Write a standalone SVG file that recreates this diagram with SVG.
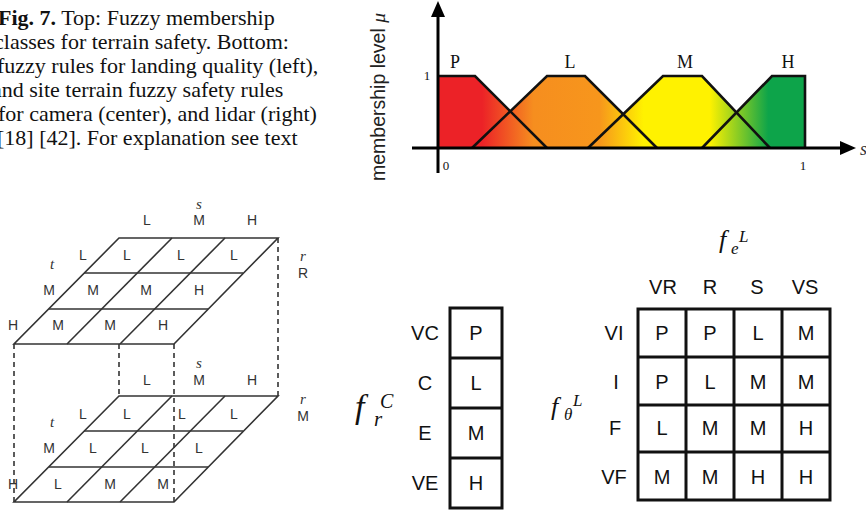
<svg xmlns="http://www.w3.org/2000/svg" width="866" height="510" viewBox="0 0 866 510">
<style>
.cap{font-family:"Liberation Serif","Times New Roman",serif;font-size:22px;fill:#111}
.ser{font-family:"Liberation Serif","Times New Roman",serif;fill:#111}
.it{font-family:"Liberation Serif","Times New Roman",serif;font-style:italic;fill:#333}
.g3{font-family:"Liberation Sans",Arial,sans-serif;font-size:14px;fill:#333;text-anchor:middle}
.tb{font-family:"Liberation Sans",Arial,sans-serif;font-size:20px;fill:#111;text-anchor:middle}
.gl{stroke:#333;stroke-width:1.6;fill:none}
.dash{stroke:#333;stroke-width:1.6;stroke-dasharray:5 4;fill:none}
.ol{stroke:#111;stroke-width:2.6;fill:none;stroke-linejoin:miter}
.tl{stroke:#111;stroke-width:3;fill:none}
</style>
<defs>
<linearGradient id="fz" gradientUnits="userSpaceOnUse" x1="438" y1="0" x2="805" y2="0">
<stop offset="0" stop-color="#ec2227"/>
<stop offset="0.12" stop-color="#ec2227"/>
<stop offset="0.26" stop-color="#f68e1f"/>
<stop offset="0.44" stop-color="#f7961c"/>
<stop offset="0.56" stop-color="#fff200"/>
<stop offset="0.74" stop-color="#fff200"/>
<stop offset="0.9" stop-color="#0da44a"/>
<stop offset="1" stop-color="#0da44a"/>
</linearGradient>
</defs>
<rect width="866" height="510" fill="#fff"/>

<g id="caption">
<text class="cap" x="-2" y="25"><tspan font-weight="bold">Fig. 7.</tspan> Top: Fuzzy membership</text>
<text class="cap" x="-6" y="49">classes for terrain safety. Bottom:</text>
<text class="cap" x="-3" y="73">fuzzy rules for landing quality (left),</text>
<text class="cap" x="-8" y="97">and site terrain fuzzy safety rules</text>
<text class="cap" x="-2" y="121">for camera (center), and lidar (right)</text>
<text class="cap" x="-3" y="145">[18] [42]. For explanation see text</text>
</g>

<g id="membership-chart">
<g fill="url(#fz)">
<polygon points="438,76 475,76 547,148 438,148"/>
<polygon points="472,148 547,76 585,76 657,148"/>
<polygon points="588,148 663,76 702,76 770,148"/>
<polygon points="702,148 772,76 805,76 805,148"/>
</g>
<polyline class="ol" points="438,76 475,76 547,148"/>
<polyline class="ol" points="472,148 547,76 585,76 657,148"/>
<polyline class="ol" points="588,148 663,76 702,76 770,148"/>
<polyline class="ol" points="702,148 772,76 805,76 805,148"/>
<line x1="438" y1="173" x2="438" y2="14" stroke="#000" stroke-width="3"/>
<polygon points="438,1 431,17 445,17" fill="#000"/>
<line x1="412" y1="148" x2="842" y2="148" stroke="#000" stroke-width="3"/>
<polygon points="856,148 840,141 840,155" fill="#000"/>
<text class="ser" x="427" y="80" font-size="13" text-anchor="middle">1</text>
<text class="ser" x="446" y="170" font-size="13" text-anchor="middle">0</text>
<text class="ser" x="803" y="170" font-size="13" text-anchor="middle">1</text>
<text class="ser" x="455" y="68" font-size="18" text-anchor="middle">P</text>
<text class="ser" x="570" y="68" font-size="18" text-anchor="middle">L</text>
<text class="ser" x="685" y="68" font-size="18" text-anchor="middle">M</text>
<text class="ser" x="788" y="68" font-size="18" text-anchor="middle">H</text>
<text class="it" x="860" y="155" font-size="18" fill="#111">s</text>
<text transform="translate(385,97) rotate(-90)" text-anchor="middle" font-family="Liberation Sans, Arial, sans-serif" font-size="19.5" fill="#222">membership level <tspan font-family="Liberation Serif, Times New Roman, serif" font-style="italic">μ</tspan></text>
</g>

<g id="landing-quality-cube">
<g id="grid-top">
<polygon class="gl" points="119,238 278,238 174,344 14,344"/>
<line class="gl" x1="84" y1="273" x2="243" y2="273"/>
<line class="gl" x1="49" y1="309" x2="208" y2="309"/>
<line class="gl" x1="172" y1="238" x2="67" y2="344"/>
<line class="gl" x1="225" y1="238" x2="120" y2="344"/>
</g>
<g id="grid-bottom" transform="translate(0,158)">
<polygon class="gl" points="119,238 278,238 174,344 14,344"/>
<line class="gl" x1="84" y1="273" x2="243" y2="273"/>
<line class="gl" x1="49" y1="309" x2="208" y2="309"/>
<line class="gl" x1="172" y1="238" x2="67" y2="344"/>
<line class="gl" x1="225" y1="238" x2="120" y2="344"/>
</g>
<g id="cube-edges">
<line class="dash" x1="14" y1="344" x2="14" y2="502"/>
<line class="dash" x1="119" y1="344" x2="119" y2="396"/>
<line class="dash" x1="174" y1="344" x2="174" y2="502"/>
<line class="dash" x1="278" y1="238" x2="278" y2="396"/>
</g>
<g id="labels-top">
<text class="it" x="199" y="209" font-size="15" text-anchor="middle">s</text>
<text class="g3" x="147" y="225">L</text><text class="g3" x="199" y="225">M</text><text class="g3" x="252" y="225">H</text>
<text class="it" x="52" y="269" font-size="15" text-anchor="middle">t</text>
<text class="g3" x="83" y="260">L</text><text class="g3" x="127" y="260">L</text><text class="g3" x="181" y="260">L</text><text class="g3" x="234" y="260">L</text>
<text class="g3" x="49" y="295">M</text><text class="g3" x="93" y="295">M</text><text class="g3" x="146" y="295">M</text><text class="g3" x="199" y="295">H</text>
<text class="g3" x="13" y="330">H</text><text class="g3" x="58" y="330">M</text><text class="g3" x="110" y="330">M</text><text class="g3" x="163" y="330">H</text>
<text class="it" x="303" y="261" font-size="15" text-anchor="middle">r</text>
<text class="g3" x="303" y="278">R</text>
</g>
<g id="labels-bottom">
<text class="it" x="199" y="368" font-size="15" text-anchor="middle">s</text>
<text class="g3" x="147" y="385">L</text><text class="g3" x="199" y="385">M</text><text class="g3" x="252" y="385">H</text>
<text class="it" x="52" y="427" font-size="15" text-anchor="middle">t</text>
<text class="g3" x="83" y="419">L</text><text class="g3" x="127" y="419">L</text><text class="g3" x="182" y="419">L</text><text class="g3" x="234" y="419">L</text>
<text class="g3" x="49" y="453">M</text><text class="g3" x="93" y="453">L</text><text class="g3" x="145" y="453">L</text><text class="g3" x="199" y="453">L</text>
<text class="g3" x="13" y="489">H</text><text class="g3" x="58" y="489">L</text><text class="g3" x="110" y="489">M</text><text class="g3" x="163" y="489">M</text>
<text class="it" x="303" y="404" font-size="15" text-anchor="middle">r</text>
<text class="g3" x="303" y="421">M</text>
</g>
</g>

<g id="camera-rules">
<text class="ser" x="355" y="418" font-size="34" font-style="italic">f</text>
<text class="ser" x="380" y="408" font-size="20" font-style="italic">C</text>
<text class="ser" x="374" y="426" font-size="21" font-style="italic">r</text>
<rect class="tl" x="450" y="308" width="52" height="200"/>
<line class="tl" x1="450" y1="358" x2="502" y2="358"/>
<line class="tl" x1="450" y1="408" x2="502" y2="408"/>
<line class="tl" x1="450" y1="458" x2="502" y2="458"/>
<text class="tb" x="425" y="340">VC</text><text class="tb" x="476" y="340">P</text>
<text class="tb" x="425" y="390">C</text><text class="tb" x="476" y="390">L</text>
<text class="tb" x="425" y="440">E</text><text class="tb" x="476" y="440">M</text>
<text class="tb" x="425" y="490">VE</text><text class="tb" x="476" y="490">H</text>
</g>

<g id="lidar-rules">
<text class="ser" x="719" y="248" font-size="26" font-style="italic">f</text>
<text class="ser" x="739" y="242" font-size="17" font-style="italic">L</text>
<text class="ser" x="731" y="254" font-size="17" font-style="italic">e</text>
<text class="ser" x="551" y="415" font-size="26" font-style="italic">f</text>
<text class="ser" x="573" y="406" font-size="17" font-style="italic">L</text>
<text class="ser" x="564" y="420" font-size="17" font-style="italic">θ</text>
<rect class="tl" x="638" y="309" width="192" height="191"/>
<line class="tl" x1="686" y1="309" x2="686" y2="500"/>
<line class="tl" x1="734" y1="309" x2="734" y2="500"/>
<line class="tl" x1="782" y1="309" x2="782" y2="500"/>
<line class="tl" x1="638" y1="357" x2="830" y2="357"/>
<line class="tl" x1="638" y1="405" x2="830" y2="405"/>
<line class="tl" x1="638" y1="452" x2="830" y2="452"/>
<text class="tb" x="663" y="294">VR</text><text class="tb" x="710" y="294">R</text><text class="tb" x="757" y="294">S</text><text class="tb" x="805" y="294">VS</text>
<text class="tb" x="614" y="340">VI</text><text class="tb" x="616" y="389">I</text><text class="tb" x="615" y="435">F</text><text class="tb" x="614" y="484">VF</text>
<text class="tb" x="662" y="340">P</text><text class="tb" x="710" y="340">P</text><text class="tb" x="758" y="340">L</text><text class="tb" x="806" y="340">M</text>
<text class="tb" x="662" y="389">P</text><text class="tb" x="710" y="389">L</text><text class="tb" x="758" y="389">M</text><text class="tb" x="806" y="389">M</text>
<text class="tb" x="662" y="435">L</text><text class="tb" x="710" y="435">M</text><text class="tb" x="758" y="435">M</text><text class="tb" x="806" y="435">H</text>
<text class="tb" x="662" y="484">M</text><text class="tb" x="710" y="484">M</text><text class="tb" x="758" y="484">H</text><text class="tb" x="806" y="484">H</text>
</g>
</svg>
